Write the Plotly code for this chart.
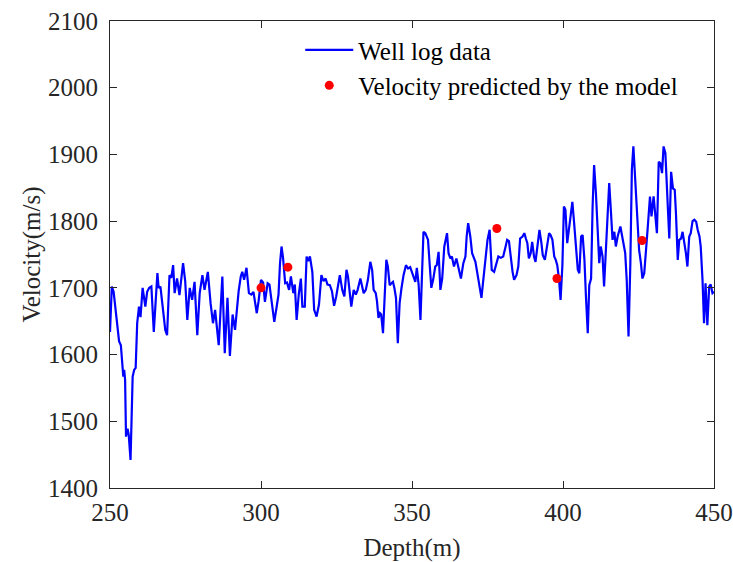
import plotly.graph_objects as go

depth = [250.0,250.6,251.2,251.8,252.4,253.0,253.6,254.1,254.4,254.7,255.0,255.3,255.8,256.2,256.8,257.5,258.0,258.5,259.0,259.6,
260.1,260.8,261.7,262.3,263.0,263.7,264.5,265.7,266.1,266.7,267.5,268.3,268.9,269.7,270.3,270.9,271.4,272.2,273.0,274.2,
274.9,275.6,276.4,277.2,278.0,278.9,279.7,280.6,281.3,282.4,283.3,284.1,284.8,286.0,287.2,288.0,288.9,289.7,290.6,291.4,
292.6,293.3,293.8,294.4,295.2,296.0,296.8,297.5,298.6,299.2,300.0,300.7,301.3,302.2,302.8,303.5,304.4,305.2,305.8,306.3,
306.8,307.3,308.0,308.6,309.3,309.9,310.7,311.2,311.8,312.5,313.2,313.7,314.5,315.1,315.6,316.2,317.0,317.6,318.4,319.2,
320.0,320.7,321.4,322.0,322.8,323.5,324.2,324.9,326.1,326.9,327.6,328.3,328.8,329.9,330.7,331.4,332.0,332.9,333.4,334.0,
334.7,335.4,336.2,336.8,337.3,338.0,338.4,338.9,339.4,339.8,340.4,341.0,341.5,342.0,342.6,343.2,343.7,344.2,344.7,345.3,
345.9,346.5,347.2,348.0,348.7,349.4,350.0,350.5,351.1,351.6,352.2,352.8,353.3,353.8,354.4,355.3,355.9,356.4,357.0,357.7,
358.2,358.8,359.4,360.0,360.7,361.6,362.1,362.7,363.2,363.9,364.7,365.5,366.2,367.0,367.7,368.1,368.6,369.3,369.9,371.0,
371.9,372.4,373.0,373.5,374.2,375.0,375.7,376.4,377.2,377.8,378.6,379.4,380.2,381.0,381.5,382.1,382.7,383.3,383.8,384.6,
385.2,385.8,386.6,387.2,387.7,388.2,388.7,389.3,389.8,390.4,390.9,391.5,392.2,392.8,393.3,394.0,394.8,395.4,395.9,396.5,
397.1,397.6,398.1,398.7,399.2,399.8,400.3,400.8,401.4,402.0,402.5,403.1,403.6,404.3,404.9,405.4,406.0,406.5,407.1,407.6,
408.2,408.7,409.3,409.8,410.3,410.9,411.4,412.0,412.5,413.1,413.6,414.2,414.8,415.3,415.9,416.4,417.0,417.5,418.1,419.0,
419.8,420.6,421.1,421.7,422.3,422.8,423.3,423.9,424.7,425.2,425.8,426.3,426.9,427.4,428.0,428.8,429.3,430.0,430.5,431.1,
431.7,432.2,432.8,433.3,433.9,434.3,434.8,435.2,435.8,436.4,437.0,437.4,438.0,438.5,439.1,439.6,440.1,440.7,441.2,441.8,
442.3,442.9,443.5,444.1,444.6,445.2,445.6,446.2,446.7,447.2,447.8,448.4,448.9,449.5,450.0]

velocity = [1634,1702,1694,1672,1647,1620,1614,1577,1567,1577,1562,1477,1489,1480,1442,1567,1577,1580,1647,1672,
1656,1700,1672,1694,1700,1702,1634,1722,1700,1702,1667,1637,1629,1719,1715,1734,1692,1714,1689,1737,
1710,1652,1700,1682,1709,1629,1692,1719,1697,1724,1677,1647,1667,1614,1717,1602,1685,1598,1660,1637,
1695,1717,1724,1712,1730,1692,1690,1694,1662,1680,1712,1708,1679,1707,1705,1680,1649,1672,1690,1737,
1762,1745,1707,1708,1697,1717,1692,1705,1652,1690,1714,1672,1672,1747,1740,1747,1724,1667,1657,1675,
1719,1710,1714,1705,1704,1695,1673,1687,1719,1697,1687,1727,1717,1672,1697,1690,1697,1714,1705,1692,
1697,1712,1739,1727,1697,1692,1680,1655,1662,1660,1632,1682,1742,1732,1704,1707,1709,1699,1685,1617,
1677,1699,1719,1734,1729,1731,1724,1719,1709,1730,1705,1652,1717,1784,1782,1772,1732,1700,1712,1732,
1734,1754,1697,1714,1762,1782,1752,1744,1747,1732,1744,1727,1714,1737,1747,1777,1797,1777,1752,1739,
1717,1700,1685,1707,1742,1772,1787,1727,1724,1734,1747,1745,1747,1762,1772,1770,1745,1724,1712,1719,
1732,1774,1777,1782,1774,1767,1744,1752,1769,1747,1739,1759,1787,1769,1749,1742,1769,1782,1779,1772,
1747,1742,1734,1712,1682,1734,1822,1817,1767,1787,1812,1829,1802,1757,1727,1722,1777,1779,1742,1687,
1632,1704,1714,1822,1884,1842,1782,1737,1762,1747,1702,1762,1827,1857,1812,1772,1784,1762,1777,1792,
1772,1752,1712,1627,1737,1877,1912,1862,1787,1757,1737,1714,1722,1747,1787,1837,1807,1837,1807,1782,
1889,1887,1872,1912,1902,1852,1812,1774,1874,1849,1847,1812,1742,1772,1774,1784,1772,1752,1732,1777,
1782,1800,1802,1799,1787,1777,1762,1712,1647,1707,1644,1702,1705,1692,1694]

pred_depth = [300.0, 308.9, 378.1, 398.0, 426.2]
pred_velocity = [1700, 1731, 1789, 1714, 1771]

FONT = "Liberation Serif, Times New Roman, serif"
AX = "#262626"

fig = go.Figure()
fig.add_trace(go.Scatter(x=depth, y=velocity, mode="lines", name="Well log data",
                         line=dict(color="#0000ff", width=2.2)))
fig.add_trace(go.Scatter(x=pred_depth, y=pred_velocity, mode="markers",
                         name="Velocity predicted by the model",
                         marker=dict(color="#ff0000", size=9)))

axis_common = dict(showline=True, linecolor=AX, linewidth=1, mirror="ticks",
                   ticks="inside", ticklen=7, tickcolor=AX, tickwidth=1,
                   showgrid=False, zeroline=False, automargin=False,
                   tickfont=dict(family=FONT, size=25, color=AX))

fig.update_xaxes(range=[250, 450], dtick=50, tick0=250,
                 title=dict(text="Depth(m)", font=dict(family=FONT, size=25, color=AX), standoff=14),
                 ticklabelstandoff=2, **axis_common)
fig.update_yaxes(range=[1400, 2100], dtick=100, tick0=1400,
                 title=dict(text="Velocity(m/s)", font=dict(family=FONT, size=25, color=AX), standoff=0),
                 ticklabelstandoff=6, **axis_common)

fig.update_layout(
    width=733, height=562,
    margin=dict(l=110, r=19, t=21, b=74),
    paper_bgcolor="white", plot_bgcolor="white",
    font=dict(family=FONT, size=25, color="#000000"),
    legend=dict(x=0.315, y=0.987, xanchor="left", yanchor="top",
                bgcolor="rgba(0,0,0,0)", borderwidth=0, itemwidth=48,
                font=dict(family=FONT, size=25, color="#000000"),
                tracegroupgap=0),
    showlegend=True,
)

fig.write_html("out.html")
